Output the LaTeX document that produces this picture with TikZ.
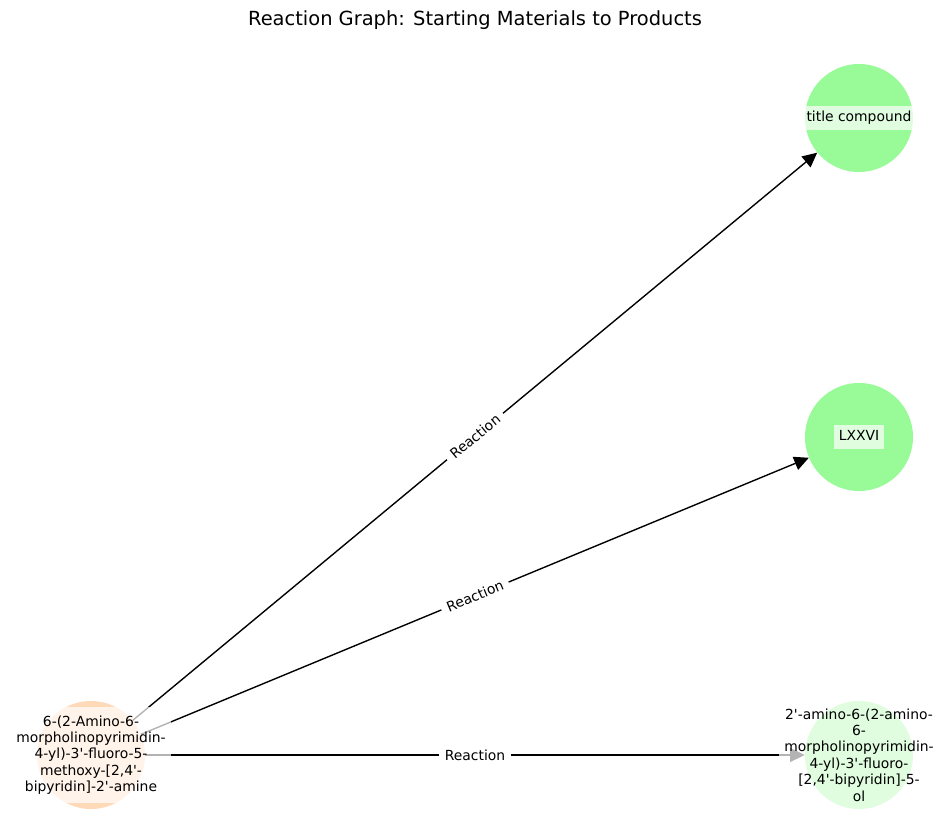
\documentclass[tikz,border=0pt]{standalone}
\usepackage{fontspec}
\newfontfamily\dejavu{DejaVu Sans}
\usepackage{tikz}
\usetikzlibrary{arrows.meta,positioning}
\definecolor{startpeach}{HTML}{FFDAB9}
\definecolor{prodgreen}{HTML}{98FB98}

\begin{document}
\begin{tikzpicture}[x=0.72pt,y=-0.72pt,font=\dejavu\fontsize{10}{11.8}\selectfont,
   startmol/.style={circle,fill=startpeach,minimum size=77.8pt,inner sep=0pt},
   prodmol/.style={circle,fill=prodgreen,minimum size=77.8pt,inner sep=0pt},
   molname/.style={fill=white,fill opacity=0.7,text opacity=1,align=center,
                   inner xsep=3.8pt,inner ysep=6pt},
   oneline/.style={text height=7.6pt,text depth=2.4pt,inner ysep=3.8pt},
   rxn/.style={-{Triangle[length=10.5pt,width=10pt]},line width=1pt},
   rxnlbl/.style={fill=white,sloped,midway,inner xsep=4.4pt,inner ysep=3pt}]
  \useasboundingbox (0,0) rectangle (950,832);
  \node[font=\dejavu\fontsize{14}{16}\selectfont,anchor=base] (title) at (475,26)
       {Reaction Graph: Starting Materials to Products};
  % molecules
  \node[startmol] (start) at (91,755) {};
  \node[prodmol]  (tc)    at (859,118) {};
  \node[prodmol]  (lxxvi) at (859,437) {};
  \node[prodmol]  (ol)    at (859,755) {};
  % reactions
  \draw[rxn] (start) -- (tc)    node[rxnlbl] {Reaction};
  \draw[rxn] (start) -- (lxxvi) node[rxnlbl] {Reaction};
  \draw[rxn] (start) -- (ol)    node[rxnlbl] {Reaction};
  % names
  \node[molname] (startlbl) at (start) {6-(2-Amino-6-\\morpholinopyrimidin-\\
        4-yl)-3'-fluoro-5-\\methoxy-{[}2,4'-\\bipyridin{]}-2'-amine};
  \node[molname,oneline] (tclbl) at (tc) {title compound};
  \node[molname,oneline] (lxxvilbl) at (lxxvi) {LXXVI};
  \node[molname] (ollbl) at (ol) {2'-amino-6-(2-amino-\\6-\\morpholinopyrimidin-\\
        4-yl)-3'-fluoro-\\{[}2,4'-bipyridin{]}-5-\\ol};
\end{tikzpicture}
\end{document}
